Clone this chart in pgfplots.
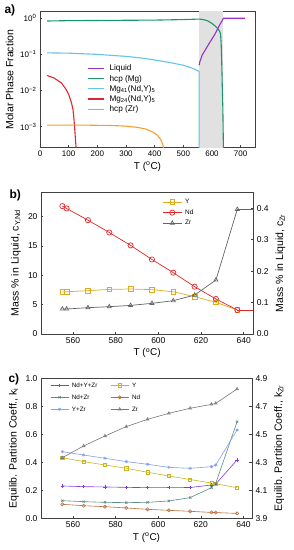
\documentclass[border=0pt]{standalone}
\usepackage{fontspec}
\setmainfont{Liberation Sans}
\usepackage{pgfplots}
\pgfplotsset{compat=1.18}
\definecolor{cliq}{RGB}{155,48,200}
\definecolor{cmg}{RGB}{25,150,110}
\definecolor{cmgfo}{RGB}{100,195,230}
\definecolor{cmgtf}{RGB}{220,40,45}
\definecolor{czr}{RGB}{245,160,40}
\definecolor{shade}{RGB}{225,225,225}
\definecolor{bY}{RGB}{225,170,30}
\definecolor{bNd}{RGB}{225,40,40}
\definecolor{bZr}{RGB}{100,100,100}
\definecolor{cNYZ}{RGB}{130,60,220}
\definecolor{cNZ}{RGB}{90,140,130}
\definecolor{cYZ}{RGB}{130,160,240}
\definecolor{cY}{RGB}{200,180,30}
\definecolor{cNd}{RGB}{185,110,60}
\definecolor{cZr}{RGB}{120,120,120}
\begin{document}
\begin{tikzpicture}
\useasboundingbox (0,0) rectangle (294pt,-550pt);
\pgfplotsset{
  every axis/.append style={
    scale only axis,
    /pgf/number format/assume math mode=true,
    tick align=inside,
    major tick length=2.5pt, minor tick length=1.5pt,
    axis line style={line width=0.6pt, black!75},
    every tick/.style={black!75, line width=0.5pt},
    xlabel style={font=\fontsize{10}{12}\selectfont},
    ylabel style={font=\fontsize{10.5}{12}\selectfont},
  },
}
% ---------------- panel a ----------------
\node[anchor=west, font=\bfseries\fontsize{12}{14}\selectfont] at (1pt,-10pt) {a)};
\begin{axis}[
  at={(40pt,-147.7pt)}, anchor=south west,
  width=215pt, height=136pt,
  ymode=log, xmin=0, xmax=750, ymin=2.6e-4, ymax=1.52,
  xtick={0,100,...,700},
  ytick={1e-3,1e-2,1e-1,1},
  yticklabels={10\textsuperscript{−3},10\textsuperscript{−2},10\textsuperscript{−1},10\textsuperscript{0}},
  minor ytick={3e-4,4e-4,5e-4,6e-4,7e-4,8e-4,9e-4,2e-3,3e-3,4e-3,5e-3,6e-3,7e-3,8e-3,9e-3,2e-2,3e-2,4e-2,5e-2,6e-2,7e-2,8e-2,9e-2,2e-1,3e-1,4e-1,5e-1,6e-1,7e-1,8e-1,9e-1},
  tick pos=left,
  tick label style={font=\fontsize{8}{9}\selectfont},
  xlabel={T (\textsuperscript{o}C)}, ylabel={Molar Phase Fraction},
  xlabel style={yshift=2pt},
  legend style={draw=none, fill=none, at={(0.22,0.61)}, anchor=north west,
    inner sep=0pt, row sep=2.5pt, font=\fontsize{8.2}{9}\selectfont,
    nodes={inner sep=0pt, text height=6pt, text depth=1.6pt}},
  legend cell align=left,
  legend image code/.code={\draw[#1] (0pt,0pt) -- (16pt,0pt); \path (21pt,0pt);},
]
\addplot[fill=shade, draw=none, forget plot] coordinates {(555,1e-4) (555,2) (640,2) (640,1e-4)} -- cycle;
\addplot[cliq, line width=1.1pt] coordinates {(555,0.05) (557,0.06) (566,0.096) (590,0.2) (610,0.36) (625,0.62) (635,0.85) (640,1.0) (715,1.0)};
\addlegendentry{Liquid}
\addplot[cmg, line width=1.1pt] coordinates {(25,0.84) (100,0.86) (200,0.87) (300,0.88) (400,0.89) (500,0.92) (555,0.95) (570,0.92) (585,0.85) (600,0.72) (610,0.62) (620,0.52) (627,0.43) (630,0.36) (632,0.2) (634,0.06) (636,0.012) (638,0.003) (640,0.0002)};
\addlegendentry{hcp (Mg)}
\addplot[cmgfo, line width=1.1pt] coordinates {(25,0.11) (100,0.108) (200,0.1) (300,0.088) (350,0.08) (400,0.07) (450,0.06) (500,0.05) (530,0.042) (555,0.034) (555.01,1e-4)};
\addlegendentry{Mg\textsubscript{41}(Nd,Y)\textsubscript{5}}
\addplot[cmgtf, line width=1.1pt] coordinates {(25,0.026) (50,0.022) (75,0.016) (90,0.011) (100,0.0078) (110,0.0045) (115,0.003) (118,0.0018) (121,0.0009) (124,0.0004) (127,0.0002)};
\addlegendentry{Mg\textsubscript{24}(Nd,Y)\textsubscript{5}}
\addplot[czr, line width=1.1pt] coordinates {(25,1.1e-3) (150,1.1e-3) (250,1.07e-3) (300,1.03e-3) (340,0.95e-3) (370,0.85e-3) (395,0.7e-3) (410,0.57e-3) (420,0.45e-3) (428,0.33e-3) (433,0.22e-3)};
\addlegendentry{hcp (Zr)}
\end{axis}
% ---------------- panel b ----------------
\node[anchor=west, font=\bfseries\fontsize{12}{14}\selectfont] at (6pt,-195pt) {b)};
\begin{axis}[
  at={(41pt,-334pt)}, anchor=south west,
  width=212.3pt, height=141.7pt,
  xmin=545, xmax=644.5, ymin=0, ymax=24.15,
  xtick={560,580,...,640}, ytick={0,5,...,20},
  tick pos=left,
  tick label style={font=\fontsize{8.5}{10}\selectfont},
  xlabel={T (\textsuperscript{o}C)}, ylabel={Mass \% in Liquid, c\textsubscript{Y,Nd}},
  xlabel style={yshift=2pt},
  legend style={draw=none, fill=none, at={(0.571,0.955)}, anchor=north west,
    inner sep=0pt, row sep=4pt, font=\fontsize{6.5}{7}\selectfont,
    nodes={inner sep=0pt, text height=5pt, text depth=1.5pt}},
  legend cell align=left,
  legend image code/.code={\draw[mark repeat=2,mark phase=2,#1] plot coordinates {(0pt,0pt) (9.5pt,0pt) (19pt,0pt)}; \path (22pt,0pt);},
  every axis plot/.append style={line width=0.7pt, mark size=2.3pt, mark options={solid, fill=none}},
]
\addplot[bY, mark=square] coordinates {(555,7.2) (557,7.2) (567,7.39) (577,7.6) (587,7.67) (597,7.56) (607,7.2) (617,6.36) (627,5.4) (637,4.09)};
\addlegendentry{Y}
\addplot[bNd, mark=o, mark size=2.6pt] coordinates {(555,21.8) (557,21.4) (567,19.4) (577,17.3) (587,15.1) (597,12.7) (607,10.45) (617,8.07) (627,5.97) (637,4.09)};
\addlegendentry{Nd}
\addplot[bNd, forget plot] coordinates {(637,4.09) (650,4.09)};
\addlegendimage{bZr, mark=triangle}
\addlegendentry{Zr}
\end{axis}
\begin{axis}[
  at={(41pt,-334pt)}, anchor=south west,
  width=212.3pt, height=141.7pt,
  xmin=545, xmax=644.5, ymin=0, ymax=0.451,
  axis y line*=right, axis x line=none,
  ytick={0,0.1,0.2,0.3,0.4},
  yticklabel style={/pgf/number format/.cd, fixed, fixed zerofill, precision=1},
  tick label style={font=\fontsize{8.5}{10}\selectfont},
  ylabel={Mass \% in Liquid, c\textsubscript{Zr}},
  every axis plot/.append style={line width=0.7pt, mark size=2.3pt, mark options={solid, fill=none}},
]
\addplot[bZr, mark=triangle] coordinates {(555,0.0796) (557,0.0796) (567,0.0838) (577,0.087) (587,0.091) (597,0.0976) (607,0.106) (617,0.124) (627,0.172) (637,0.397)};
\addplot[bZr] coordinates {(637,0.397) (650,0.397)};
\end{axis}
% ---------------- panel c ----------------
\node[anchor=west, font=\bfseries\fontsize{12}{14}\selectfont] at (5pt,-379pt) {c)};
\begin{axis}[
  at={(41pt,-518.3pt)}, anchor=south west,
  width=211pt, height=140pt,
  xmin=545, xmax=644, ymin=0, ymax=1,
  xtick={560,580,...,640}, ytick={0,0.2,0.4,0.6,0.8,1.0},
  yticklabel style={/pgf/number format/.cd, fixed, fixed zerofill, precision=1},
  tick pos=left,
  tick label style={font=\fontsize{8.5}{10}\selectfont},
  xlabel={T (\textsuperscript{o}C)}, ylabel={Equilib. Partition Coeff., k\textsubscript{i}},
  xlabel style={yshift=2pt},
  legend columns=2,
  legend style={draw=none, fill=none, at={(0.043,0.975)}, anchor=north west,
    inner sep=0pt, row sep=5.5pt, font=\fontsize{6.3}{7}\selectfont,
    nodes={inner sep=0pt, text height=5pt, text depth=1.5pt},
    /tikz/every even column/.append style={column sep=13pt}},
  legend cell align=left,
  legend image code/.code={\draw[mark repeat=2,mark phase=2,#1] plot coordinates {(0pt,0pt) (9pt,0pt) (18pt,0pt)}; \path (21pt,0pt);},
  every axis plot/.append style={line width=0.6pt, mark size=1.6pt, mark options={solid, fill=none}},
]
\addplot[cNYZ, mark=+] coordinates {(555,0.231) (565,0.226) (575,0.224) (585,0.221) (595,0.219) (605,0.219) (615,0.220) (625,0.238) (627,0.245) (637,0.417)};
\addlegendentry{Nd+Y+Zr}
\addplot[cY, mark=square] coordinates {(555,0.433) (565,0.405) (575,0.381) (585,0.357) (595,0.329) (605,0.302) (615,0.277) (625,0.252) (627,0.246) (637,0.219)};
\addlegendentry{Y}
\addplot[cNZ, mark=x] coordinates {(555,0.126) (565,0.119) (575,0.114) (585,0.112) (595,0.114) (605,0.124) (615,0.148) (625,0.219) (627,0.25) (637,0.69)};
\addlegendentry{Nd+Zr}
\addplot[cNd, mark=o] coordinates {(555,0.1) (565,0.09) (575,0.083) (585,0.074) (595,0.064) (605,0.057) (615,0.05) (625,0.042) (627,0.041) (637,0.035)};
\addlegendentry{Nd}
\addplot[cYZ, mark=asterisk] coordinates {(555,0.476) (565,0.452) (575,0.429) (585,0.405) (595,0.386) (605,0.364) (615,0.357) (625,0.369) (627,0.381) (637,0.631)};
\addlegendentry{Y+Zr}
\addlegendimage{cZr, mark=triangle}
\addlegendentry{Zr}
\end{axis}
\begin{axis}[
  at={(41pt,-518.3pt)}, anchor=south west,
  width=211pt, height=140pt,
  xmin=545, xmax=644, ymin=3.9, ymax=4.9,
  axis y line*=right, axis x line=none,
  ytick={3.9,4.1,4.3,4.5,4.7,4.9},
  yticklabel style={/pgf/number format/.cd, fixed, fixed zerofill, precision=1},
  tick label style={font=\fontsize{8.5}{10}\selectfont},
  ylabel={Equilib. Partition Coeff., k\textsubscript{Zr}},
  every axis plot/.append style={line width=0.6pt, mark size=1.6pt, mark options={solid, fill=none}},
]
\addplot[cZr, mark=triangle] coordinates {(555,4.333) (565,4.417) (575,4.488) (585,4.555) (595,4.607) (605,4.65) (615,4.686) (625,4.714) (627,4.721) (637,4.824)};
\end{axis}
\end{tikzpicture}
\end{document}
